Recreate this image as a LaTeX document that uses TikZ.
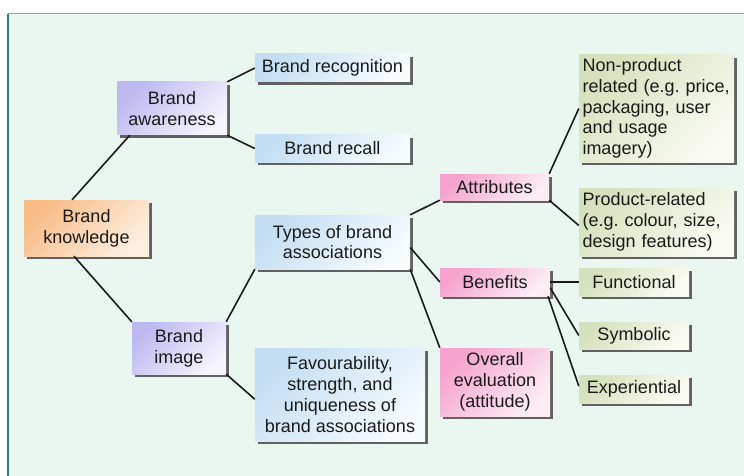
\documentclass[tikz,border=0pt]{standalone}
\usepackage{fontspec}
\setmainfont{Liberation Sans}
\usetikzlibrary{shadows,calc}
\definecolor{mint}{HTML}{EAF7F1}
\definecolor{topline}{HTML}{7FAFA6}
\definecolor{leftline}{HTML}{2F7F80}
\definecolor{ink}{HTML}{1A1A1A}
\definecolor{orA}{HTML}{F8BC88}\definecolor{orB}{HTML}{FDEEDF}
\definecolor{puA}{HTML}{BDB8F0}\definecolor{puB}{HTML}{F6F4FF}
\definecolor{blA}{HTML}{C3DEF3}\definecolor{blB}{HTML}{F6FBFE}
\definecolor{piA}{HTML}{F5A3CC}\definecolor{piB}{HTML}{FCEDF5}
\definecolor{grA}{HTML}{D5E1BC}\definecolor{grB}{HTML}{FAFBF3}
\tikzset{
  box/.style={inner sep=0pt, text=ink, align=center,
    font=\fontsize{18}{20.8}\selectfont\frenchspacing,
    drop shadow={shadow xshift=2.6pt, shadow yshift=-2.6pt, fill=black!62, opacity=1}},
  orbox/.style={box, top color=orA, bottom color=orB, shading angle=45},
  pubox/.style={box, top color=puA, bottom color=puB, shading angle=45},
  blbox/.style={box, top color=blA, bottom color=blB, shading angle=45},
  pibox/.style={box, top color=piA, bottom color=piB, shading angle=45},
  grbox/.style={box, top color=grA, bottom color=grB, shading angle=45},
  link/.style={draw=ink, line width=1.6pt}
}
\begin{document}
\begin{tikzpicture}[x=1pt,y=-1pt]
\useasboundingbox (0,0) rectangle (744,476);
\fill[white] (0,0) rectangle (744,476);
\fill[mint] (8,14) rectangle (744,476);
\draw[topline, line width=1pt] (8,14) -- (744,14);
\draw[leftline, line width=2pt] (8,14) -- (8,476);

\node[orbox, minimum width=125pt, minimum height=56pt] (k) at (86.5,228) {Brand\\knowledge};
\node[pubox, minimum width=110pt, minimum height=53pt] (aw) at (172,108.5) {Brand\\awareness};
\node[blbox, minimum width=155pt, minimum height=28pt] (rec) at (332.5,68) {Brand recognition};
\node[blbox, minimum width=155pt, minimum height=27pt] (rcl) at (332.5,148.5) {Brand recall};
\node[blbox, minimum width=155pt, minimum height=54pt] (ty) at (332.5,242) {Types of brand\\associations};
\node[pubox, minimum width=94pt, minimum height=52pt] (im) at (179,348) {Brand\\image};
\node[blbox, minimum width=170pt, minimum height=93pt] (fav) at (340,394.5) {Favourability,\\strength, and\\uniqueness of\\brand associations};
\node[pibox, minimum width=109pt, minimum height=26pt] (att) at (494.5,187) {Attributes};
\node[pibox, minimum width=110pt, minimum height=28pt] (ben) at (495,282) {Benefits};
\node[pibox, minimum width=110pt, minimum height=68pt] (ov) at (495,382) {Overall\\evaluation\\(attitude)};
\node[grbox, minimum width=155pt, minimum height=107pt, align=left, text width=148pt] (np) at (656.5,108.5) {Non-product\\related (e.g. price,\\packaging, user\\and usage\\imagery)};
\node[grbox, minimum width=155pt, minimum height=68pt, align=left, text width=148pt] (pr) at (656.5,222) {Product-related\\(e.g. colour, size,\\design features)};
\node[grbox, minimum width=110pt, minimum height=28pt] (fun) at (634,282) {Functional};
\node[grbox, minimum width=110pt, minimum height=27pt] (sym) at (634,335.5) {Symbolic};
\node[grbox, minimum width=110pt, minimum height=28pt] (ex) at (634,389) {Experiential};

\draw[link] ($(k.north west)!0.385!(k.north east)$) -- ($(aw.south west)!0.118!(aw.south east)$);
\draw[link] (aw.north east) -- (rec.west);
\draw[link] (aw.south east) -- (rcl.west);
\draw[link] ($(k.south west)!0.4!(k.south east)$) -- (im.north west);
\draw[link] (im.north east) -- (ty.south west);
\draw[link] (im.south east) -- ($(fav.north west)!0.55!(fav.south west)$);
\draw[link] (ty.north east) -- (att.south west);
\draw[link] ($(ty.north east)!0.6!(ty.south east)$) -- (ben.west);
\draw[link] (ty.south east) -- (ov.north west);
\draw[link] (att.north east) -- (np.west);
\draw[link] (att.south east) -- ($(pr.north west)!0.55!(pr.south west)$);
\draw[link] (ben.east) -- (fun.west);
\draw[link] ($(ben.north east)!0.7!(ben.south east)$) -- (sym.west);
\draw[link] ($(ben.south west)!0.98!(ben.south east)$) -- ($(ex.north west)!0.4!(ex.south west)$);
\end{tikzpicture}
\end{document}
